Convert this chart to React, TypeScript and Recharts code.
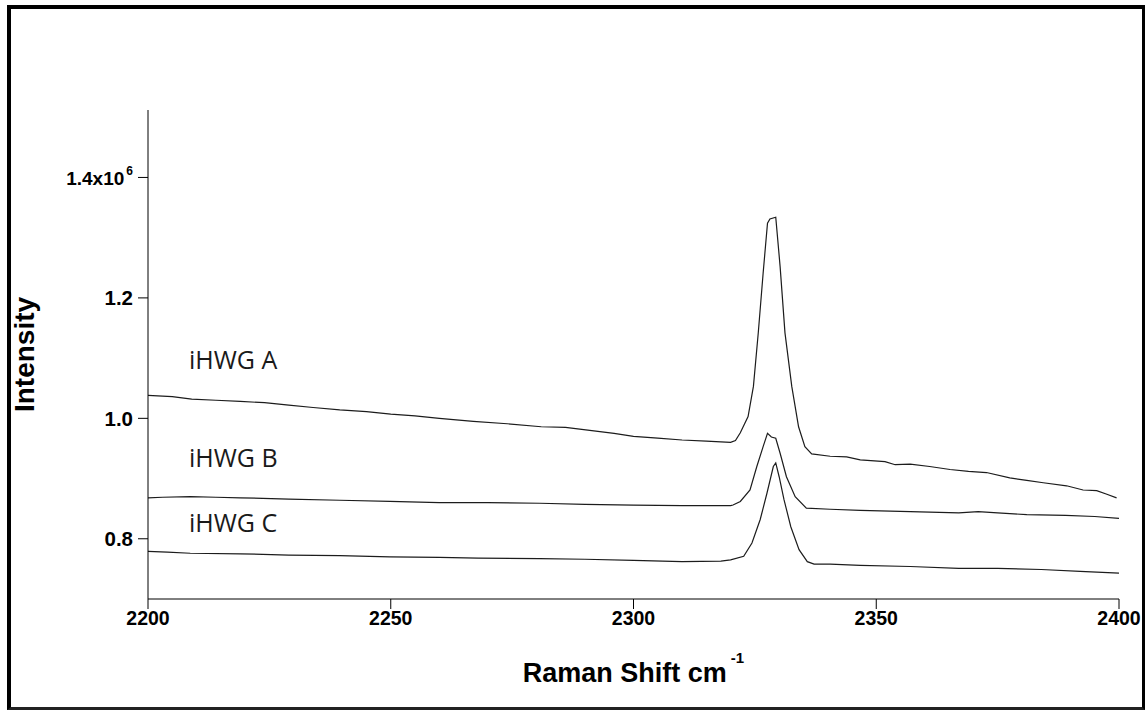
import React from "react";
import { LineChart, Line, XAxis, YAxis } from "recharts";

// Raman shift (cm^-1) and intensity (x10^6) for each sample
const aShift = [2200, 2205, 2209, 2214, 2219, 2224, 2229, 2234, 2239.5, 2245, 2250, 2255, 2260, 2267, 2274, 2281, 2286, 2291, 2296, 2300, 2305, 2310, 2315, 2320, 2321, 2322, 2323.6, 2324.7, 2325.7, 2326.7, 2327.6, 2328.1, 2329.3, 2330.2, 2331.2, 2332.6, 2334, 2335.3, 2336.7, 2340.5, 2343.9, 2346.7, 2351.8, 2353.9, 2357, 2361, 2365.2, 2369, 2372.7, 2377.5, 2381, 2384.4, 2389.2, 2392.6, 2395.4, 2397.5, 2399.5];
const aIntensity = [1.038, 1.036, 1.032, 1.030, 1.028, 1.026, 1.022, 1.018, 1.014, 1.011, 1.007, 1.004, 1.000, 0.995, 0.991, 0.986, 0.985, 0.980, 0.975, 0.970, 0.967, 0.964, 0.962, 0.960, 0.963, 0.976, 1.003, 1.053, 1.142, 1.241, 1.324, 1.331, 1.334, 1.252, 1.142, 1.053, 0.986, 0.953, 0.941, 0.937, 0.936, 0.931, 0.928, 0.923, 0.924, 0.920, 0.915, 0.912, 0.910, 0.901, 0.897, 0.893, 0.888, 0.881, 0.880, 0.874, 0.868];

const bShift = [2200, 2203, 2208.7, 2214, 2219, 2229, 2239.5, 2249.8, 2260, 2270, 2280.7, 2290, 2300, 2310, 2320, 2320.5, 2322, 2324, 2325.4, 2326.7, 2327.6, 2328.4, 2329.3, 2330.2, 2331.5, 2333.3, 2335.6, 2340.5, 2346.7, 2357, 2367, 2371, 2375, 2381, 2389, 2395, 2400];
const bIntensity = [0.868, 0.869, 0.870, 0.869, 0.868, 0.866, 0.864, 0.862, 0.860, 0.860, 0.859, 0.857, 0.856, 0.855, 0.855, 0.856, 0.862, 0.881, 0.920, 0.953, 0.975, 0.969, 0.967, 0.942, 0.903, 0.870, 0.851, 0.849, 0.847, 0.845, 0.843, 0.845, 0.843, 0.840, 0.839, 0.837, 0.834];

const cShift = [2200, 2204, 2208.7, 2219, 2229, 2239.5, 2249.8, 2260, 2268, 2280.7, 2290, 2300, 2310, 2318, 2320, 2322.7, 2324.4, 2326.1, 2327.5, 2328.8, 2329.3, 2330, 2331, 2332.4, 2334.1, 2335.8, 2337.2, 2340.5, 2346.7, 2357, 2367, 2375, 2384, 2392, 2400];
const cIntensity = [0.779, 0.778, 0.776, 0.775, 0.773, 0.772, 0.770, 0.769, 0.768, 0.767, 0.766, 0.764, 0.762, 0.763, 0.765, 0.771, 0.793, 0.832, 0.876, 0.920, 0.926, 0.903, 0.865, 0.820, 0.782, 0.762, 0.758, 0.758, 0.756, 0.754, 0.751, 0.751, 0.749, 0.746, 0.743];

const xTicks = [2200, 2250, 2300, 2350, 2400];
const yTicks = [0.8, 1.0, 1.2, 1.4];
const yTickLabels = ["0.8", "1.0", "1.2", "1.4x10"];
const seriesNames = ["iHWG A", "iHWG B", "iHWG C"];

const toData = (xs: number[], ys: number[]) => xs.map((x, i) => ({ x, y: ys[i] }));
const dataA = toData(aShift, aIntensity);
const dataB = toData(bShift, bIntensity);
const dataC = toData(cShift, cIntensity);

const AXIS_FONT = "'Liberation Sans', Arial, sans-serif";
const LINE_COLOR = "#1c1c1c";

const XTick = (props: any) => {
  const { x, y, payload } = props;
  return (
    <text x={x} y={y} dy={14} textAnchor="middle" fontFamily={AXIS_FONT} fontWeight="bold" fontSize={19.5} fill="#000">
      {payload.value}
    </text>
  );
};

const YTick = (props: any) => {
  const { x, y, payload } = props;
  const idx = yTicks.indexOf(payload.value);
  const label = idx >= 0 ? yTickLabels[idx] : String(payload.value);
  const isTop = payload.value === 1.4;
  return (
    <text x={x} y={y} dy={7.5} textAnchor="end" fontFamily={AXIS_FONT} fontWeight="bold" fontSize={isTop ? 19 : 20.5} fill="#000">
      <tspan>{label}</tspan>
      {isTop ? (
        <tspan dx={2} dy={-10} fontSize={12}>6</tspan>
      ) : null}
    </text>
  );
};

const XLabel = (props: any) => {
  const vb = props.viewBox || {};
  const cx = vb.x + vb.width / 2;
  return (
    <text x={cx} y={vb.y + 83} textAnchor="middle" fontFamily={AXIS_FONT} fontWeight="bold" fontSize={27} fill="#000">
      <tspan>Raman Shift cm</tspan>
      <tspan dx={4} dy={-19} fontSize={15}>-1</tspan>
    </text>
  );
};

const YLabel = (props: any) => {
  const vb = props.viewBox || {};
  const cy = vb.y + vb.height / 2;
  const lx = 34;
  return (
    <text x={lx} y={cy} textAnchor="middle" transform={`rotate(-90 ${lx} ${cy})`} fontFamily={AXIS_FONT} fontWeight="bold" fontSize={28} fill="#000">
      Intensity
    </text>
  );
};

export default function App() {
  return (
    <div style={{ position: "absolute", left: 0, top: 0, width: 1146, height: 710, background: "#fff", overflow: "hidden" }}>
      <LineChart width={1146} height={710} margin={{ top: 110, right: 27, bottom: 81, left: 88 }}>
        <XAxis
          dataKey="x"
          type="number"
          domain={[2200, 2400]}
          ticks={xTicks}
          allowDataOverflow
          interval={0}
          height={30}
          tickSize={10}
          tickMargin={2}
          stroke="#000"
          tickLine={{ stroke: "#000" }}
          tick={<XTick />}
          label={{ content: <XLabel /> }}
        />
        <YAxis
          type="number"
          domain={[0.7, 1.512]}
          ticks={yTicks}
          allowDataOverflow
          interval={0}
          width={60}
          tickSize={10}
          tickMargin={5}
          stroke="#000"
          tickLine={{ stroke: "#000" }}
          tick={<YTick />}
          label={{ content: <YLabel /> }}
        />
        <Line data={dataA} dataKey="y" name={seriesNames[0]} type="linear" stroke={LINE_COLOR} strokeWidth={1.2} dot={false} isAnimationActive={false} />
        <Line data={dataB} dataKey="y" name={seriesNames[1]} type="linear" stroke={LINE_COLOR} strokeWidth={1.2} dot={false} isAnimationActive={false} />
        <Line data={dataC} dataKey="y" name={seriesNames[2]} type="linear" stroke={LINE_COLOR} strokeWidth={1.2} dot={false} isAnimationActive={false} />
      </LineChart>
      <svg width={1146} height={710} style={{ position: "absolute", left: 0, top: 0, pointerEvents: "none" }}>
        <text x={189} y={369} fontFamily="'Open Sans', 'Noto Sans', sans-serif" fontSize={25} fill="#1a1a1a">{seriesNames[0]}</text>
        <text x={189} y={467} fontFamily="'Open Sans', 'Noto Sans', sans-serif" fontSize={25} fill="#1a1a1a">{seriesNames[1]}</text>
        <text x={189} y={532} fontFamily="'Open Sans', 'Noto Sans', sans-serif" fontSize={25} fill="#1a1a1a">{seriesNames[2]}</text>
      </svg>
      <div
        style={{
          position: "absolute",
          left: 7,
          top: 5,
          width: 1138,
          height: 705,
          boxSizing: "border-box",
          borderLeft: "4px solid #000",
          borderTop: "4px solid #000",
          borderRight: "3px solid #000",
          borderBottom: "3px solid #222",
          pointerEvents: "none",
        }}
      />
    </div>
  );
}
